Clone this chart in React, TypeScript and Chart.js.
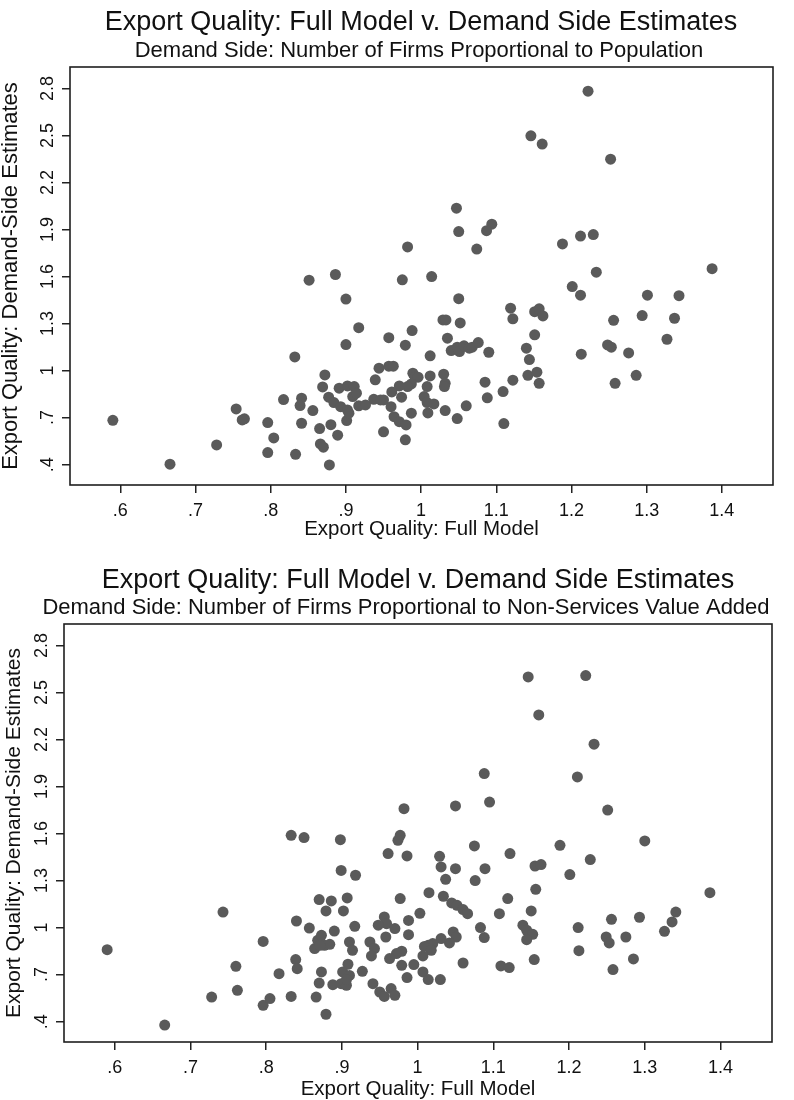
import React, { useEffect, useRef } from "react";
import { Chart, registerables } from "chart.js";

Chart.register(...registerables);

const FONT = '"Liberation Sans", Arial, Helvetica, sans-serif';
const INK = "#111111";
const DOT = "#5a5a5a";

const MAIN_TITLE = "Export Quality: Full Model v. Demand Side Estimates";
const SUB_POP = "Demand Side: Number of Firms Proportional to Population";
const SUB_NSVA = "Demand Side: Number of Firms Proportional to Non-Services Value Added";
const X_TITLE = "Export Quality: Full Model";
const Y_TITLE = "Export Quality: Demand-Side Estimates";

const xTicks = [0.6, 0.7, 0.8, 0.9, 1.0, 1.1, 1.2, 1.3, 1.4];
const xTickLabels = [".6", ".7", ".8", ".9", "1", "1.1", "1.2", "1.3", "1.4"];
const yTicks = [0.4, 0.7, 1.0, 1.3, 1.6, 1.9, 2.2, 2.5, 2.8];
const yTickLabels = [".4", ".7", "1", "1.3", "1.6", "1.9", "2.2", "2.5", "2.8"];
const xLimits = [0.533, 1.468];
const yLimits = [0.27, 2.937];

// Panel 1: demand side, firms proportional to population
const popX = [
  1.222, 1.146, 1.161, 1.252, 1.047, 1.05, 1.094, 1.087, 0.982, 1.074, 1.188, 1.212, 1.229, 1.387,
  1.233, 0.975, 1.014, 1.05, 1.201, 1.212, 1.301, 1.343, 1.119, 1.122, 1.151, 1.157, 1.162, 1.256,
  1.294, 1.337, 1.029, 1.033, 1.052, 0.988, 0.957, 0.979, 1.035, 1.151, 1.327, 1.012, 1.04, 1.048,
  1.051, 1.057, 1.064, 1.068, 1.076, 1.09, 1.14, 1.144, 1.213, 1.248, 1.253, 1.276, 1.286, 1.258,
  1.142, 1.154, 1.157, 1.122, 1.109, 1.085, 1.088, 1.11, 1.06, 1.048, 1.032, 1.03, 1.032, 1.031,
  1.012, 1.008, 1.004, 1.008, 1.017, 1.009, 0.987, 0.989, 0.992, 0.996, 0.987, 0.982, 0.971, 0.961,
  0.974, 0.96, 0.964, 0.971, 0.98, 0.95, 0.979, 0.95, 0.944, 0.957, 0.963,
  0.59, 0.666, 0.728, 0.754, 0.762, 0.765, 0.796, 0.804, 0.796, 0.817, 0.832, 0.833, 0.841, 0.839,
  0.841, 0.851, 0.856, 0.865, 0.866, 0.87, 0.872, 0.869, 0.877, 0.886, 0.88, 0.878, 0.889, 0.884,
  0.893, 0.902, 0.891, 0.9, 0.9, 0.917, 0.902, 0.911, 0.909, 0.914, 0.901, 0.904, 0.917, 0.926,
  0.937, 0.946, 0.939,
];
const popY = [
  2.783, 2.498, 2.445, 2.349, 2.036, 1.887, 1.934, 1.893, 1.789, 1.775, 1.808, 1.858, 1.868, 1.65,
  1.628, 1.579, 1.6, 1.459, 1.536, 1.481, 1.481, 1.478, 1.398, 1.33, 1.376, 1.394, 1.349, 1.321,
  1.351, 1.334, 1.323, 1.323, 1.304, 1.255, 1.21, 1.162, 1.207, 1.228, 1.2, 1.094, 1.128, 1.149,
  1.121, 1.158, 1.143, 1.149, 1.179, 1.117, 1.143, 1.07, 1.105, 1.164, 1.149, 1.113, 0.97, 0.919,
  0.97, 0.99, 0.919, 0.939, 0.866, 0.926, 0.826, 0.662, 0.775, 0.694, 0.745, 0.977, 0.919, 0.898,
  0.966, 0.898, 0.834, 0.796, 0.787, 0.73, 0.728, 0.983, 0.958, 0.958, 0.915, 0.898, 0.902, 0.864,
  0.83, 0.77, 0.706, 0.674, 0.653, 0.609, 0.558, 0.813, 1.015, 1.028, 1.028,
  0.683, 0.403, 0.526, 0.755, 0.685, 0.692, 0.668, 0.57, 0.477, 0.815, 1.087, 0.466, 0.824, 0.777,
  0.664, 1.577, 0.745, 0.63, 0.532, 0.511, 0.972, 0.896, 0.83, 1.613, 0.655, 0.398, 0.588, 0.796,
  0.77, 0.749, 0.888, 1.456, 1.166, 1.274, 0.902, 0.898, 0.834, 0.856, 0.681, 0.728, 0.775, 0.781,
  0.817, 0.813, 0.941,
];

// Panel 2: demand side, firms proportional to non-services value added
const nsvaX = [
  1.146, 1.222, 1.16, 1.233, 1.088, 1.211, 0.982, 1.05, 1.095, 1.251,
  1.3, 1.188, 1.075, 0.977, 0.974, 0.961, 0.986, 1.029, 1.122, 1.228, 1.031, 1.05, 1.089, 1.155,
  1.163, 1.201, 1.037, 1.076, 1.156, 1.386, 0.977, 1.015, 1.034, 1.119, 1.045, 1.052, 1.06, 1.066,
  1.003, 0.988, 0.956, 0.959, 0.97, 1.108, 1.15, 1.256, 1.293, 1.341, 1.336, 1.326, 1.212, 1.083,
  1.088, 1.139, 1.144, 1.152, 1.144, 1.249, 1.253, 1.275, 0.958, 0.988, 1.047, 1.051, 1.042, 1.031,
  1.02, 1.014, 1.009, 1.018, 1.007, 0.979, 0.972, 0.963, 0.995, 0.979, 1.06, 1.11, 1.121, 1.154,
  1.213, 1.285, 1.258, 1.007, 1.014, 0.986, 1.03, 0.95, 0.956, 0.965, 0.97,
  0.59, 0.666, 0.728, 0.743, 0.76, 0.762, 0.796, 0.796, 0.805, 0.817, 0.833, 0.85, 0.833, 0.84,
  0.839, 0.841, 0.857, 0.866, 0.864, 0.868, 0.873, 0.877, 0.884, 0.871, 0.87, 0.886, 0.879, 0.873,
  0.87, 0.879, 0.89, 0.888, 0.899, 0.906, 0.898, 0.899, 0.918, 0.902, 0.907, 0.917, 0.91, 0.914,
  0.908, 0.901, 0.91, 0.906, 0.927, 0.937, 0.943, 0.939, 0.941, 0.948,
];
const nsvaY = [
  2.599, 2.608, 2.357, 2.17, 1.983, 1.961, 1.759, 1.776, 1.801, 1.75,
  1.553, 1.525, 1.521, 1.589, 1.557, 1.472, 1.457, 1.455, 1.472, 1.434, 1.387, 1.376, 1.376, 1.393,
  1.402, 1.338, 1.308, 1.3, 1.244, 1.223, 1.185, 1.223, 1.2, 1.185, 1.157, 1.142, 1.115, 1.089,
  1.091, 1.046, 1.068, 1.025, 0.994, 1.089, 1.106, 1.053, 1.066, 1.099, 1.036, 0.976, 1.0, 1.0,
  0.936, 1.015, 0.983, 0.957, 0.923, 0.94, 0.902, 0.94, 0.94, 0.955, 0.972, 0.94, 0.902, 0.93,
  0.898, 0.887, 0.88, 0.855, 0.819, 0.849, 0.834, 0.802, 0.764, 0.759, 0.774, 0.755, 0.745, 0.796,
  0.853, 0.8, 0.732, 0.717, 0.668, 0.681, 0.668, 0.589, 0.561, 0.611, 0.568,
  0.859, 0.378, 0.557, 1.099, 0.753, 0.6, 0.912, 0.504, 0.547, 0.706, 1.589, 1.574, 0.561, 1.042,
  0.796, 0.738, 0.997, 0.557, 0.866, 0.919, 0.951, 0.887, 0.893, 0.887, 1.179, 1.17, 1.106, 0.717,
  0.646, 0.447, 0.978, 0.636, 0.642, 0.632, 1.561, 1.365, 1.334, 1.106, 1.189, 1.008, 0.908, 0.855,
  0.766, 0.717, 0.695, 0.668, 0.721, 0.908, 0.866, 0.819, 0.642, 1.015,
];

const CANVAS_W = 794;
const CANVAS_H = 550;

type PanelCfg = {
  subtitle: string;
  xs: number[];
  ys: number[];
  left: number;
  right: number;
  top: number;
  bottom: number;
  xAxisH: number;
  xTitlePad: number;
  titleX: number;
  titleBase: number;
  subX: number;
  subBase: number;
  yTitleBaseX: number;
  yTitleSize: number;
};

function Panel({ cfg }: { cfg: PanelCfg }) {
  const ref = useRef<HTMLCanvasElement | null>(null);

  useEffect(() => {
    const canvas = ref.current;
    if (!canvas) return;

    const decor = {
      id: "panelDecor",
      beforeDatasetsDraw(chart: any) {
        const { ctx, chartArea: a } = chart;
        ctx.save();
        ctx.strokeStyle = "#1e1e1e";
        ctx.lineWidth = 1.6;
        ctx.strokeRect(a.left, a.top, a.right - a.left, a.bottom - a.top);
        ctx.restore();
      },
      afterDraw(chart: any) {
        const { ctx, chartArea: a } = chart;
        const yScale = chart.scales.y;
        ctx.save();
        ctx.fillStyle = INK;
        ctx.textAlign = "center";
        ctx.textBaseline = "alphabetic";
        ctx.font = `27px ${FONT}`;
        ctx.fillText(MAIN_TITLE, cfg.titleX, cfg.titleBase);
        ctx.font = `22px ${FONT}`;
        ctx.fillText(cfg.subtitle, cfg.subX, cfg.subBase);

        ctx.font = `18px ${FONT}`;
        yTicks.forEach((v, i) => {
          const py = yScale.getPixelForValue(v);
          ctx.save();
          ctx.translate(a.left - 17, py);
          ctx.rotate(-Math.PI / 2);
          ctx.fillText(yTickLabels[i], 0, 0);
          ctx.restore();
        });

        ctx.font = `${cfg.yTitleSize}px ${FONT}`;
        ctx.save();
        ctx.translate(cfg.yTitleBaseX, (a.top + a.bottom) / 2);
        ctx.rotate(-Math.PI / 2);
        ctx.fillText(Y_TITLE, 0, 0);
        ctx.restore();
        ctx.restore();
      },
    };

    const gridOpts = {
      display: true,
      drawOnChartArea: false,
      drawTicks: true,
      tickLength: 8,
      color: "#222222",
      lineWidth: 1.5,
    };

    const chart = new Chart(canvas, {
      type: "scatter",
      data: {
        datasets: [
          {
            data: cfg.xs.map((x, i) => ({ x, y: cfg.ys[i] })),
            backgroundColor: DOT,
            borderWidth: 0,
            pointRadius: 5.5,
            pointHoverRadius: 5.5,
          },
        ],
      },
      options: {
        responsive: false,
        maintainAspectRatio: false,
        animation: false,
        events: [],
        layout: {
          padding: {
            left: 0,
            right: CANVAS_W - cfg.right,
            top: cfg.top,
            bottom: CANVAS_H - cfg.bottom - cfg.xAxisH,
          },
        },
        plugins: {
          legend: { display: false },
          tooltip: { enabled: false },
          title: { display: false },
        },
        scales: {
          x: {
            type: "linear",
            min: xLimits[0],
            max: xLimits[1],
            afterBuildTicks: (s: any) => {
              s.ticks = xTicks.map((v) => ({ value: v }));
            },
            afterFit: (s: any) => {
              s.height = cfg.xAxisH;
            },
            grid: gridOpts,
            border: { display: false },
            ticks: {
              autoSkip: false,
              maxRotation: 0,
              padding: 7,
              color: INK,
              font: { size: 18, family: FONT },
              callback: (_v: any, i: number) => xTickLabels[i],
            },
            title: {
              display: true,
              text: X_TITLE,
              color: INK,
              font: { size: 20.5, family: FONT },
              padding: { top: 0, bottom: cfg.xTitlePad },
            },
          },
          y: {
            type: "linear",
            min: yLimits[0],
            max: yLimits[1],
            afterBuildTicks: (s: any) => {
              s.ticks = yTicks.map((v) => ({ value: v }));
            },
            afterFit: (s: any) => {
              s.width = cfg.left;
            },
            grid: gridOpts,
            border: { display: false },
            ticks: { display: false },
          },
        },
      } as any,
      plugins: [decor],
    });

    return () => chart.destroy();
  }, [cfg]);

  return (
    <div style={{ width: CANVAS_W, height: CANVAS_H }}>
      <canvas ref={ref} width={CANVAS_W} height={CANVAS_H} style={{ display: "block" }} />
    </div>
  );
}

const panelPop: PanelCfg = {
  subtitle: SUB_POP,
  xs: popX,
  ys: popY,
  left: 70,
  right: 773,
  top: 67,
  bottom: 485,
  xAxisH: 60,
  xTitlePad: 3.5,
  titleX: 421,
  titleBase: 30,
  subX: 419,
  subBase: 56.5,
  yTitleBaseX: 17,
  yTitleSize: 22,
};

const panelNsva: PanelCfg = {
  subtitle: SUB_NSVA,
  xs: nsvaX,
  ys: nsvaY,
  left: 64,
  right: 772,
  top: 74,
  bottom: 492,
  xAxisH: 58,
  xTitlePad: -2,
  titleX: 418,
  titleBase: 37.5,
  subX: 406,
  subBase: 64,
  yTitleBaseX: 20,
  yTitleSize: 21,
};

export default function App() {
  useEffect(() => {
    document.body.style.margin = "0";
    document.body.style.background = "#ffffff";
  }, []);
  return (
    <div style={{ width: CANVAS_W, background: "#ffffff" }}>
      <Panel cfg={panelPop} />
      <Panel cfg={panelNsva} />
    </div>
  );
}
